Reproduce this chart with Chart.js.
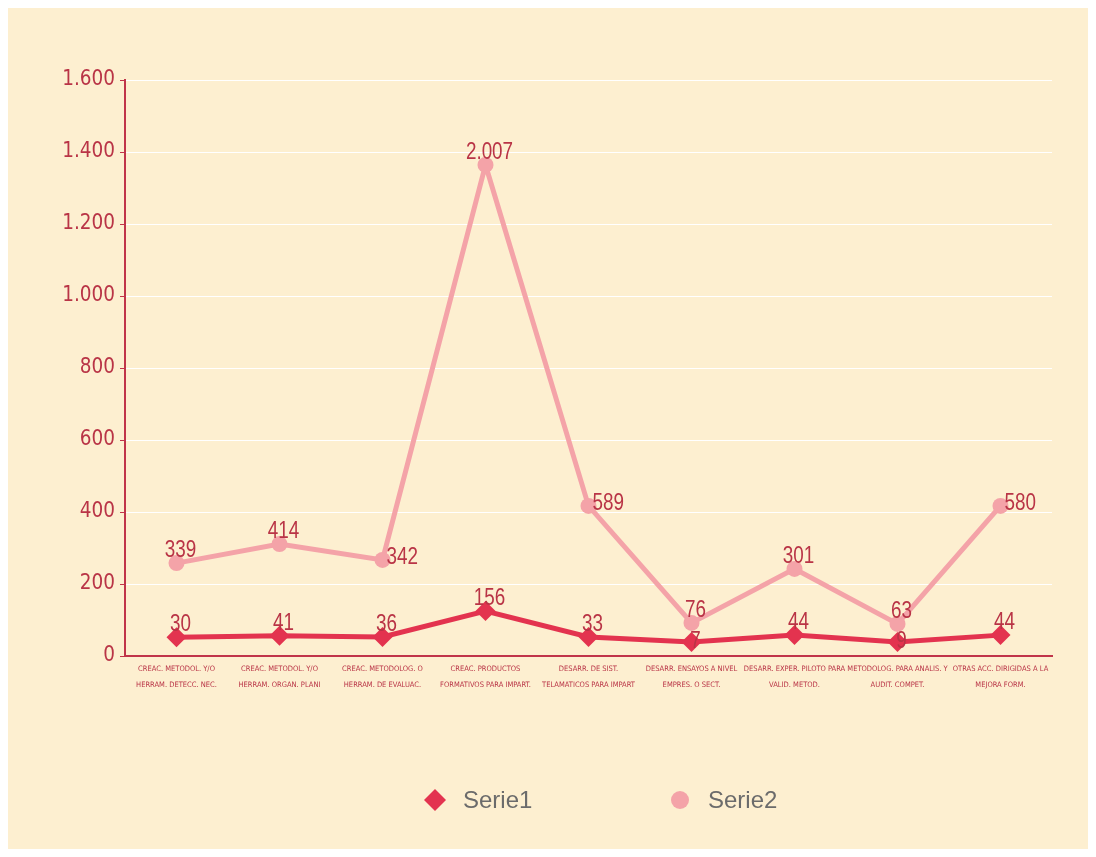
<!DOCTYPE html>
<html><head><meta charset="utf-8">
<script src="https://cdn.jsdelivr.net/npm/chart.js@4"></script>
<style>
body{margin:0;background:#fff;}
#wrap{position:absolute;left:8px;top:8px;width:1080px;height:841px;background:#fdefd0;}
</style></head><body>
<div id="wrap"><canvas id="c"></canvas></div>
<script>
const categories = [
  ['CREAC. METODOL. Y/O', 'HERRAM. DETECC. NEC.'],
  ['CREAC. METODOL. Y/O', 'HERRAM. ORGAN. PLANI'],
  ['CREAC. METODOLOG. O', 'HERRAM. DE EVALUAC.'],
  ['CREAC. PRODUCTOS', 'FORMATIVOS PARA IMPART.'],
  ['DESARR. DE SIST.', 'TELAMATICOS PARA IMPART'],
  ['DESARR. ENSAYOS A NIVEL', 'EMPRES. O SECT.'],
  ['DESARR. EXPER. PILOTO PARA', 'VALID. METOD.'],
  ['METODOLOG. PARA ANALIS. Y', 'AUDIT. COMPET.'],
  ['OTRAS ACC. DIRIGIDAS A LA', 'MEJORA FORM.']
];
const seriesNames = ['Serie1', 'Serie2'];
const serie1Values = [52, 56, 53, 125, 53, 39, 58, 39, 58];
const serie1Labels = ['30', '41', '36', '156', '33', '7', '44', '9', '44'];
const serie2Values = [258, 311, 267, 1364, 417, 92, 242, 89, 417];
const serie2Labels = ['339', '414', '342', '2.007', '589', '76', '301', '63', '580'];
const yMin = 0, yMax = 1600, yStep = 200;

const RED_TEXT = '#b93446';
const AXIS = '#c0344a';
const C1 = '#e3334f';
const C2 = '#f4a3a8';
const COND = '"DejaVu Sans Condensed", "DejaVu Sans", sans-serif';

const valueLabels = {
  id: 'valueLabels',
  afterDatasetsDraw(chart, args, opts) {
    const ctx = chart.ctx;
    chart.data.datasets.forEach((ds, di) => {
      const meta = chart.getDatasetMeta(di);
      const pos = opts.positions[di];
      meta.data.forEach((pt, i) => {
        const t = ds.valueLabels[i];
        const p = pos[i];
        let x, y, align, base;
        if (p === 'right') { x = pt.x + 4; y = pt.y - 2; align = 'left'; base = 'middle'; }
        else if (p === 'center') { x = pt.x + 4; y = pt.y; align = 'center'; base = 'middle'; }
        else { x = pt.x + 4; y = pt.y - 6; align = 'center'; base = 'alphabetic'; }
        ctx.save();
        ctx.translate(x, y);
        ctx.scale(0.82, 1);
        ctx.font = '23px "Liberation Sans", Arial, sans-serif';
        ctx.fillStyle = RED_TEXT;
        ctx.textAlign = align; ctx.textBaseline = base;
        ctx.fillText(t, 0, 0);
        ctx.restore();
      });
    });
  }
};

const customLegend = {
  id: 'customLegend',
  afterDraw(chart, args, opts) {
    const ctx = chart.ctx;
    ctx.save();
    ctx.font = '24px "Liberation Sans", Arial, sans-serif';
    ctx.textBaseline = 'middle';
    ctx.textAlign = 'left';
    const y = opts.y;
    chart.data.datasets.forEach((ds, di) => {
      const x = opts.xs[di];
      ctx.fillStyle = ds.pointBackgroundColor;
      ctx.beginPath();
      if (ds.pointStyle === 'rectRot') {
        const r = 11;
        ctx.moveTo(x, y - r); ctx.lineTo(x + r, y); ctx.lineTo(x, y + r); ctx.lineTo(x - r, y);
        ctx.closePath();
      } else {
        ctx.arc(x, y, 9, 0, Math.PI * 2);
      }
      ctx.fill();
      ctx.fillStyle = '#6b6b6b';
      ctx.fillText(ds.label, x + 28, y + 1);
    });
    ctx.restore();
  }
};

new Chart(document.getElementById('c'), {
  type: 'line',
  data: {
    labels: categories,
    datasets: [
      {
        label: seriesNames[0], data: serie1Values, valueLabels: serie1Labels,
        borderColor: C1, backgroundColor: C1, pointBackgroundColor: C1,
        borderWidth: 5, pointStyle: 'rectRot', pointRadius: 10, pointBorderWidth: 0,
        pointHoverRadius: 10, tension: 0
      },
      {
        label: seriesNames[1], data: serie2Values, valueLabels: serie2Labels,
        borderColor: C2, backgroundColor: C2, pointBackgroundColor: C2,
        borderWidth: 5, pointStyle: 'circle', pointRadius: 8, pointBorderWidth: 0,
        pointHoverRadius: 8, tension: 0
      }
    ]
  },
  options: {
    responsive: true, maintainAspectRatio: false, devicePixelRatio: 1, animation: false,
    layout: { padding: { top: 72, right: 36, left: 0, bottom: 0 } },
    plugins: {
      legend: { display: false }, tooltip: { enabled: false },
      valueLabels: {
        positions: [
          ['top','top','top','top','top','center','top','center','top'],
          ['top','top','right','top','right','top','top','top','right']
        ]
      },
      customLegend: { y: 792, xs: [427, 672] }
    },
    scales: {
      x: {
        offset: true,
        grid: { display: false, drawTicks: false },
        border: { display: true, color: AXIS, width: 2 },
        ticks: {
          color: RED_TEXT, font: { family: COND, size: 7.5, lineHeight: 2.1 }, padding: 5,
          maxRotation: 0, minRotation: 0, autoSkip: false
        },
        afterFit(scale) { scale.height = 193; }
      },
      y: {
        min: yMin, max: yMax,
        ticks: {
          stepSize: yStep, color: RED_TEXT, padding: 5,
          font: { family: COND, size: 20.5 },
          callback: v => String(v).replace(/\B(?=(\d{3})+(?!\d))/g, '.')
        },
        grid: {
          color: ctx => (ctx.tick && ctx.tick.value === 0) ? 'rgba(0,0,0,0)' : '#ffffff',
          lineWidth: 1, tickColor: AXIS, tickLength: 5, drawTicks: true
        },
        border: { display: true, color: AXIS, width: 2 },
        afterFit(scale) { scale.width = 117; }
      }
    }
  },
  plugins: [valueLabels, customLegend]
});
</script>
</body></html>
